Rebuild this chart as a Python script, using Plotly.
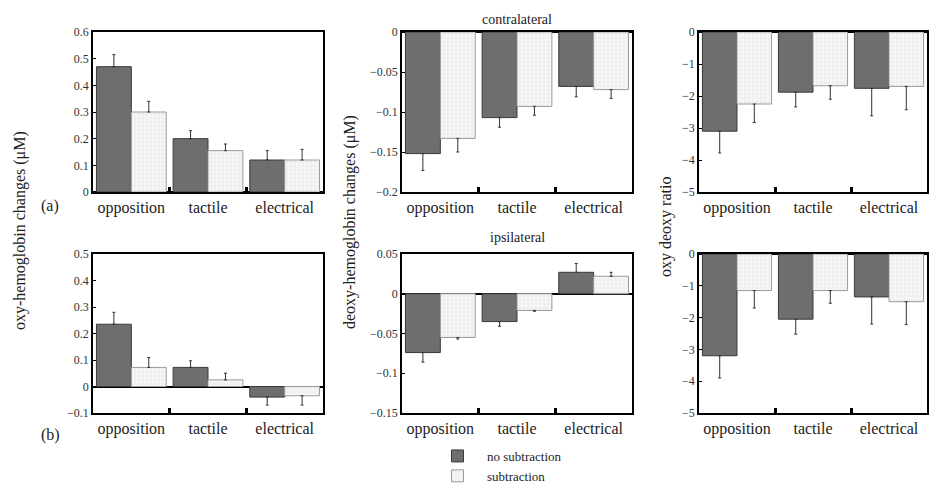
import plotly.graph_objects as go
from plotly.subplots import make_subplots

categories = ["opposition", "tactile", "electrical"]
series_names = ["no subtraction", "subtraction"]

# contralateral (row 1)
oxy_contra_nosub = [0.47, 0.20, 0.12]
oxy_contra_nosub_err = [0.045, 0.03, 0.035]
oxy_contra_sub = [0.30, 0.155, 0.12]
oxy_contra_sub_err = [0.04, 0.025, 0.04]

deoxy_contra_nosub = [-0.152, -0.107, -0.068]
deoxy_contra_nosub_err = [0.021, 0.012, 0.013]
deoxy_contra_sub = [-0.133, -0.093, -0.072]
deoxy_contra_sub_err = [0.017, 0.011, 0.011]

ratio_contra_nosub = [-3.1, -1.88, -1.76]
ratio_contra_nosub_err = [0.68, 0.46, 0.86]
ratio_contra_sub = [-2.25, -1.68, -1.70]
ratio_contra_sub_err = [0.58, 0.42, 0.73]

# ipsilateral (row 2)
oxy_ipsi_nosub = [0.235, 0.072, -0.04]
oxy_ipsi_nosub_err = [0.045, 0.025, 0.03]
oxy_ipsi_sub = [0.072, 0.025, -0.035]
oxy_ipsi_sub_err = [0.037, 0.025, 0.035]

deoxy_ipsi_nosub = [-0.074, -0.035, 0.027]
deoxy_ipsi_nosub_err = [0.012, 0.006, 0.011]
deoxy_ipsi_sub = [-0.055, -0.021, 0.022]
deoxy_ipsi_sub_err = [0.002, 0.001, 0.005]

ratio_ipsi_nosub = [-3.2, -2.05, -1.35]
ratio_ipsi_nosub_err = [0.70, 0.47, 0.85]
ratio_ipsi_sub = [-1.15, -1.15, -1.50]
ratio_ipsi_sub_err = [0.55, 0.40, 0.72]

panels = [
    (1, 1, oxy_contra_nosub, oxy_contra_nosub_err, oxy_contra_sub, oxy_contra_sub_err, [0, 0.6], 0.1),
    (1, 2, deoxy_contra_nosub, deoxy_contra_nosub_err, deoxy_contra_sub, deoxy_contra_sub_err, [-0.2, 0], 0.05),
    (1, 3, ratio_contra_nosub, ratio_contra_nosub_err, ratio_contra_sub, ratio_contra_sub_err, [-5, 0], 1),
    (2, 1, oxy_ipsi_nosub, oxy_ipsi_nosub_err, oxy_ipsi_sub, oxy_ipsi_sub_err, [-0.1, 0.5], 0.1),
    (2, 2, deoxy_ipsi_nosub, deoxy_ipsi_nosub_err, deoxy_ipsi_sub, deoxy_ipsi_sub_err, [-0.15, 0.05], 0.05),
    (2, 3, ratio_ipsi_nosub, ratio_ipsi_nosub_err, ratio_ipsi_sub, ratio_ipsi_sub_err, [-5, 0], 1),
]

W, H = 935, 483
FONT = "Liberation Serif, Times New Roman, serif"

col_x = [(93, 323), (402, 632), (699, 927)]
row_y = [(32, 192), (254, 413)]

fig = make_subplots(rows=2, cols=3, horizontal_spacing=0.05, vertical_spacing=0.1)

xpos = list(range(len(categories)))


def err_dict(vals, errs):
    up = [e if v >= 0 else 0 for v, e in zip(vals, errs)]
    down = [e if v < 0 else 0 for v, e in zip(vals, errs)]
    return dict(type="data", symmetric=False, array=up, arrayminus=down,
                color="#333333", thickness=1, width=1.5)


first = True
for (r, c, nv, ne, sv, se, yr, dt) in panels:
    fig.add_trace(go.Bar(
        x=xpos, y=nv, name=series_names[0], legendgroup="a", showlegend=first,
        marker=dict(color="#6e6e6e", line=dict(color="#3a3a3a", width=1)),
        error_y=err_dict(nv, ne)), row=r, col=c)
    fig.add_trace(go.Bar(
        x=xpos, y=sv, name=series_names[1], legendgroup="b", showlegend=first,
        marker=dict(color="#f3f3f3", line=dict(color="#9a9a9a", width=1),
                    pattern=dict(shape="+", fgcolor="#cfcfcf", bgcolor="#f7f7f7",
                                 size=4, solidity=0.25)),
        error_y=err_dict(sv, se)), row=r, col=c)
    first = False

    (x0, x1) = col_x[c - 1]
    (yt, yb) = row_y[r - 1]
    fig.update_xaxes(
        domain=[x0 / W, x1 / W], range=[-0.5, 2.5],
        tickmode="array", tickvals=xpos, ticktext=categories, ticks="",
        showline=True, linecolor="black", linewidth=1.5, mirror=True,
        showgrid=False, zeroline=False,
        tickfont=dict(family=FONT, size=16, color="#222"),
        minor=dict(tickmode="array", tickvals=[0.5, 1.5], ticks="inside",
                   ticklen=5, tickwidth=2.5, tickcolor="black", showgrid=False),
        row=r, col=c)
    fig.update_yaxes(
        domain=[1 - yb / H, 1 - yt / H], range=yr, dtick=dt, tick0=0,
        ticks="inside", ticklen=3, tickcolor="black",
        showline=True, linecolor="black", linewidth=1.5, mirror=True,
        showgrid=False, zeroline=True, zerolinecolor="black", zerolinewidth=1.5,
        tickfont=dict(family=FONT, size=12, color="#333"),
        row=r, col=c)

annotations = [
    dict(text="contralateral", x=(402 + 632) / 2 / W, y=1 - 19 / H, size=14),
    dict(text="ipsilateral", x=(402 + 632) / 2 / W, y=1 - 238 / H, size=14),
    dict(text="(a)", x=50 / W, y=1 - 206 / H, size=16),
    dict(text="(b)", x=50 / W, y=1 - 435 / H, size=16),
    dict(text="oxy-hemoglobin changes (μM)", x=20 / W, y=1 - 231 / H, angle=-90, size=16),
    dict(text="deoxy-hemoglobin changes (μM)", x=350 / W, y=1 - 222 / H, angle=-90, size=16),
    dict(text="oxy deoxy ratio", x=666 / W, y=1 - 227 / H, angle=-90, size=16),
]
for a in annotations:
    fig.add_annotation(text=a["text"], x=a["x"], y=a["y"], xref="paper", yref="paper",
                       showarrow=False, textangle=a.get("angle", 0),
                       font=dict(family=FONT, size=a.get("size", 12), color="#222"),
                       xanchor="center", yanchor="middle")

fig.update_layout(
    width=W, height=H, margin=dict(l=0, r=0, t=0, b=0, autoexpand=False),
    paper_bgcolor="white", plot_bgcolor="white",
    barmode="group", bargap=0.09, bargroupgap=0,
    font=dict(family=FONT, color="#222"),
    legend=dict(x=428 / W, y=1 - 441 / H, xanchor="left", yanchor="top",
                font=dict(family=FONT, size=13, color="#222"),
                itemwidth=49, tracegroupgap=0, bgcolor="rgba(0,0,0,0)"),
)

fig.write_html("out.html", config={"displayModeBar": False},
               post_script="document.body.style.margin='0';document.body.style.overflow='hidden';")
